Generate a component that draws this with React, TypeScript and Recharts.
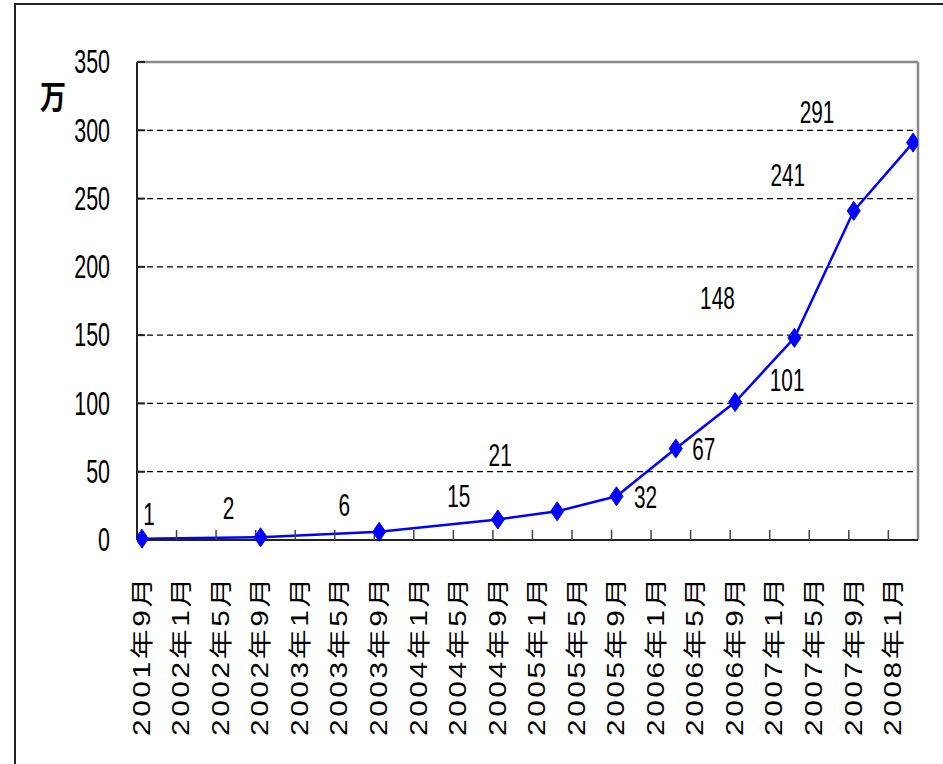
import React from 'react';
import {
  LineChart,
  Line,
  XAxis,
  YAxis,
  CartesianGrid,
  ReferenceLine,
  LabelList,
} from 'recharts';

// x-axis labels, every 4 months starting 2001年9月
const tickLabels = [
  '2001年9月', '2002年1月', '2002年5月', '2002年9月', '2003年1月',
  '2003年5月', '2003年9月', '2004年1月', '2004年5月', '2004年9月',
  '2005年1月', '2005年5月', '2005年9月', '2006年1月', '2006年5月',
  '2006年9月', '2007年1月', '2007年5月', '2007年9月', '2008年1月',
];

// observation dates and values (万)
const pointDates = [
  '2001-09', '2002-09', '2003-09', '2004-09', '2005-03', '2005-09',
  '2006-03', '2006-09', '2007-03', '2007-09', '2008-03',
];
const users = [1, 2, 6, 15, 21, 32, 67, 101, 148, 241, 291];

const yTicks = [0, 50, 100, 150, 200, 250, 300, 350];

// data labels are shifted around in the original, offsets in px
const labelOffsets: [number, number][] = [
  [7, -24], [-32, -29], [-35, -26], [-39, -23], [-57, -56], [29, 1],
  [28, 1], [52, -22], [-77, -40], [-66, -36], [-96, -30],
];

const monthIndex = (d: string) => {
  const [y, m] = d.split('-').map(Number);
  return (y - 2001) * 12 + (m - 9);
};

const data = pointDates.map((d, i) => ({ m: monthIndex(d), v: users[i] }));
const labelTicks = tickLabels.map((_, i) => i * 4);
const markTicks = tickLabels.slice(1).map((_, i) => i * 4 + 3.5);
const X_DOMAIN: [number, number] = [-0.5, 78.5];

const NUM_FONT = '"Liberation Sans", Arial, sans-serif';
const LABEL_FONT = '"Liberation Sans", Arial, "Noto Sans CJK JP", sans-serif';

const XTick = (props: any) => {
  const { x, y, payload } = props;
  const label = tickLabels[Math.round(payload.value / 4)] ?? '';
  return (
    <text
      transform={`translate(${x},${y}) rotate(-90) scale(1.3,1)`}
      textAnchor="end"
      dominantBaseline="central"
      fontSize={23}
      letterSpacing={2}
      fontFamily={LABEL_FONT}
      fill="#000"
    >
      {label}
    </text>
  );
};

const EmptyTick = () => <g />;

const YTick = (props: any) => {
  const { x, y, payload } = props;
  return (
    <text
      transform={`translate(${x},${y}) scale(0.65,1)`}
      textAnchor="end"
      dominantBaseline="central"
      fontSize={33}
      fontFamily={NUM_FONT}
      fill="#000"
    >
      {payload.value}
    </text>
  );
};

const Diamond = (props: any) => {
  const { cx, cy } = props;
  if (cx == null || cy == null) return null;
  return (
    <polygon
      points={`${cx},${cy - 9.5} ${cx + 6.5},${cy} ${cx},${cy + 9.5} ${cx - 6.5},${cy}`}
      fill="#0000ff"
      stroke="#0000ff"
    />
  );
};

const ValueLabel = (props: any) => {
  const { x, y, value, index } = props;
  const [dx, dy] = labelOffsets[index] ?? [0, -20];
  return (
    <text
      transform={`translate(${x + dx},${y + dy}) scale(0.65,1)`}
      textAnchor="middle"
      dominantBaseline="central"
      fontSize={32}
      fontFamily={NUM_FONT}
      fill="#000"
    >
      {value}
    </text>
  );
};

export default function App() {
  return (
    <div
      style={{
        position: 'absolute',
        left: 0,
        top: 0,
        width: 943,
        height: 764,
        overflow: 'hidden',
        background: '#fff',
      }}
    >
      <div
        style={{
          position: 'absolute',
          left: 14,
          top: 3,
          width: 980,
          height: 820,
          border: '2px solid #222',
        }}
      />
      <div
        style={{
          position: 'absolute',
          left: 40,
          top: 95,
          fontSize: 26,
          fontWeight: 'bold',
          fontFamily: '"Noto Sans CJK JP", sans-serif',
          transform: 'translateY(-50%) scaleY(1.25)',
          lineHeight: 1,
        }}
      >
        万
      </div>
      <LineChart
        width={943}
        height={764}
        data={data}
        margin={{ top: 62, right: 25, left: 57, bottom: 0 }}
        style={{ position: 'absolute', left: 0, top: 0 }}
      >
        <CartesianGrid
          horizontal
          vertical={false}
          stroke="#000"
          strokeDasharray="6 4"
          strokeWidth={1.2}
        />
        <XAxis
          dataKey="m"
          type="number"
          domain={X_DOMAIN}
          ticks={labelTicks}
          interval={0}
          allowDataOverflow
          height={224}
          tickLine={false}
          tickSize={0}
          tickMargin={35}
          axisLine={{ stroke: '#222', strokeWidth: 2 }}
          tick={<XTick />}
        />
        <XAxis
          xAxisId="marks"
          dataKey="m"
          type="number"
          domain={X_DOMAIN}
          ticks={markTicks}
          interval={0}
          allowDataOverflow
          mirror
          axisLine={false}
          tick={<EmptyTick />}
          tickSize={10}
          tickLine={{ stroke: '#444', strokeWidth: 1.5 }}
        />
        <YAxis
          type="number"
          domain={[0, 350]}
          ticks={yTicks}
          interval={0}
          width={80}
          tickSize={-8}
          tickMargin={35}
          axisLine={{ stroke: '#222', strokeWidth: 2 }}
          tickLine={{ stroke: '#222', strokeWidth: 2 }}
          tick={<YTick />}
        />
        <ReferenceLine y={350} stroke="#888" strokeWidth={2.5} />
        <ReferenceLine x={X_DOMAIN[1]} stroke="#888" strokeWidth={2.5} />
        <Line
          dataKey="v"
          stroke="#0000ff"
          strokeWidth={2.5}
          dot={<Diamond />}
          activeDot={false}
          isAnimationActive={false}
        >
          <LabelList dataKey="v" content={<ValueLabel />} />
        </Line>
      </LineChart>
    </div>
  );
}
